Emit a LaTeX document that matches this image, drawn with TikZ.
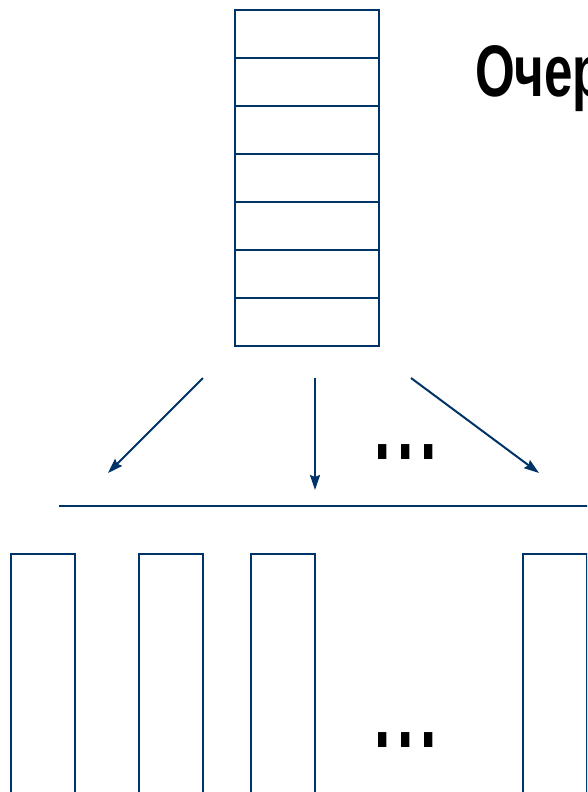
\documentclass[tikz,border=0pt]{standalone}
\usepackage{fontspec}
\setmainfont{Liberation Sans}
\usetikzlibrary{arrows.meta}
\definecolor{navy}{HTML}{003366}
\newcommand{\spreaddots}{\scalebox{1}[1.7]{.\kern6.5pt.\kern6.5pt.}}
\tikzset{
  flow/.style={draw=navy,line width=2pt,arrows={-Stealth[length=15pt,width=10pt,inset=2pt]}}
}
\begin{document}
\begin{tikzpicture}[x=1pt,y=-1pt,
  line width=2pt,
  cell/.style={draw=navy,rectangle,minimum width=144pt,minimum height=48pt,inner sep=0pt,outer sep=0pt},
  slot/.style={draw=navy,rectangle,minimum width=64pt,minimum height=300pt,inner sep=0pt,outer sep=0pt,anchor=north west},
  ellipsis/.style={inner sep=0pt,anchor=base,font=\bfseries\fontsize{59}{59}\selectfont},
  title/.style={inner sep=0pt,anchor=base west,font=\bfseries\fontsize{73}{73}\selectfont}]
\useasboundingbox (0,0) rectangle (587,792);
\clip (0,0) rectangle (587,792);

% queue: a column of seven cells
\foreach \i in {1,...,7}
  \node[cell] (c\i) at (307,{10+48*\i-24}) {};

% heading
\node[title] (head) at (474,96) {\scalebox{0.7}[1]{Очер}};

% arrows from the queue down to the workers
\coordinate (s1) at (203,378);
\coordinate (e1) at (108,473);
\coordinate (s2) at (315,378);
\coordinate (e2) at (315,490);
\coordinate (s3) at (411,378);
\coordinate (e3) at (539,473);
\draw[flow] (s1) -- (e1);
\draw[flow] (s2) -- (e2);
\draw[flow] (s3) -- (e3);
\node[ellipsis] (dotsA) at (405.5,459) {\spreaddots};

% separator line
\coordinate (la) at (59,506);
\coordinate (lb) at (590,506);
\draw[navy] (la) -- (lb);

% workers
\node[slot] (w1) at (11,554) {};
\node[slot] (w2) at (139,554) {};
\node[slot] (w3) at (251,554) {};
\node[slot] (w4) at (523,554) {};
\node[ellipsis] (dotsB) at (406,747) {\spreaddots};
\end{tikzpicture}
\end{document}
